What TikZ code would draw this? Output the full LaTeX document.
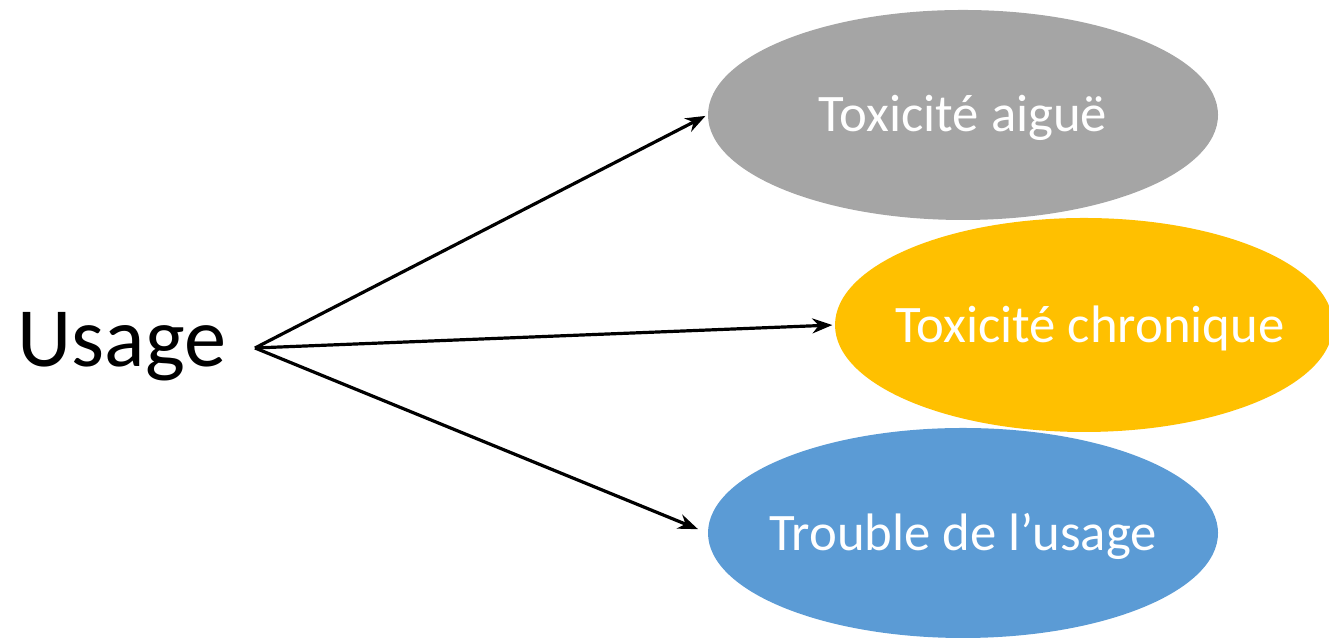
\documentclass[tikz,border=0pt]{standalone}
\usepackage{fontspec}
\setmainfont{Carlito}
\usetikzlibrary{shapes.geometric,arrows.meta,positioning}
\definecolor{aiguegray}{HTML}{A5A5A5}
\definecolor{chroniqueyellow}{HTML}{FFC000}
\definecolor{troubleblue}{HTML}{5B9BD5}
\tikzset{
  effet/.style={ellipse, inner sep=0pt},
  etiquette/.style={text=white, inner sep=0pt, yshift=-0.030000cm, font=\fontsize{15}{18}\selectfont},
  fleche/.style={line width=0.032cm, -{Stealth[length=0.20cm, width=0.15cm]}}
}
\begin{document}
\begin{tikzpicture}
        \useasboundingbox (0.000000,0.000000) rectangle (13.290000,6.390000);
        
        % Marking the source word
        \node [anchor=base west, inner sep=0pt, font=\fontsize{24}{29}\selectfont] (usage) at (0.170000,2.720000) {Usage};%
        \coordinate (hub) at (2.550000,2.910000);%
        
        % Marking the three effects by ellipses
        \node [effet, fill=aiguegray, minimum width=5.100000cm, minimum height=2.100000cm,
          label={[etiquette]center:Toxicité aiguë}] (aigue) at (9.630000,5.240000) {};%
        \node [effet, fill=chroniqueyellow, minimum width=4.980000cm, minimum height=2.140000cm,
          label={[etiquette, xshift=0.060000cm]center:Toxicité chronique}] (chronique) at (10.840000,3.140000) {};%
        \node [effet, fill=troubleblue, minimum width=5.100000cm, minimum height=2.100000cm,
          label={[etiquette]center:Trouble de l’usage}] (trouble) at (9.630000,1.060000) {};%
        
        % Drawing arrows from hub
        \draw [fleche, shorten >=0.020000cm] (hub) -- (aigue.west);%
        \draw [fleche, shorten >=0.020000cm] (hub) -- (chronique.west);%
        \draw [fleche, shorten >=0.100000cm] (hub) -- (trouble.west);%
    \end{tikzpicture}
\end{document}
